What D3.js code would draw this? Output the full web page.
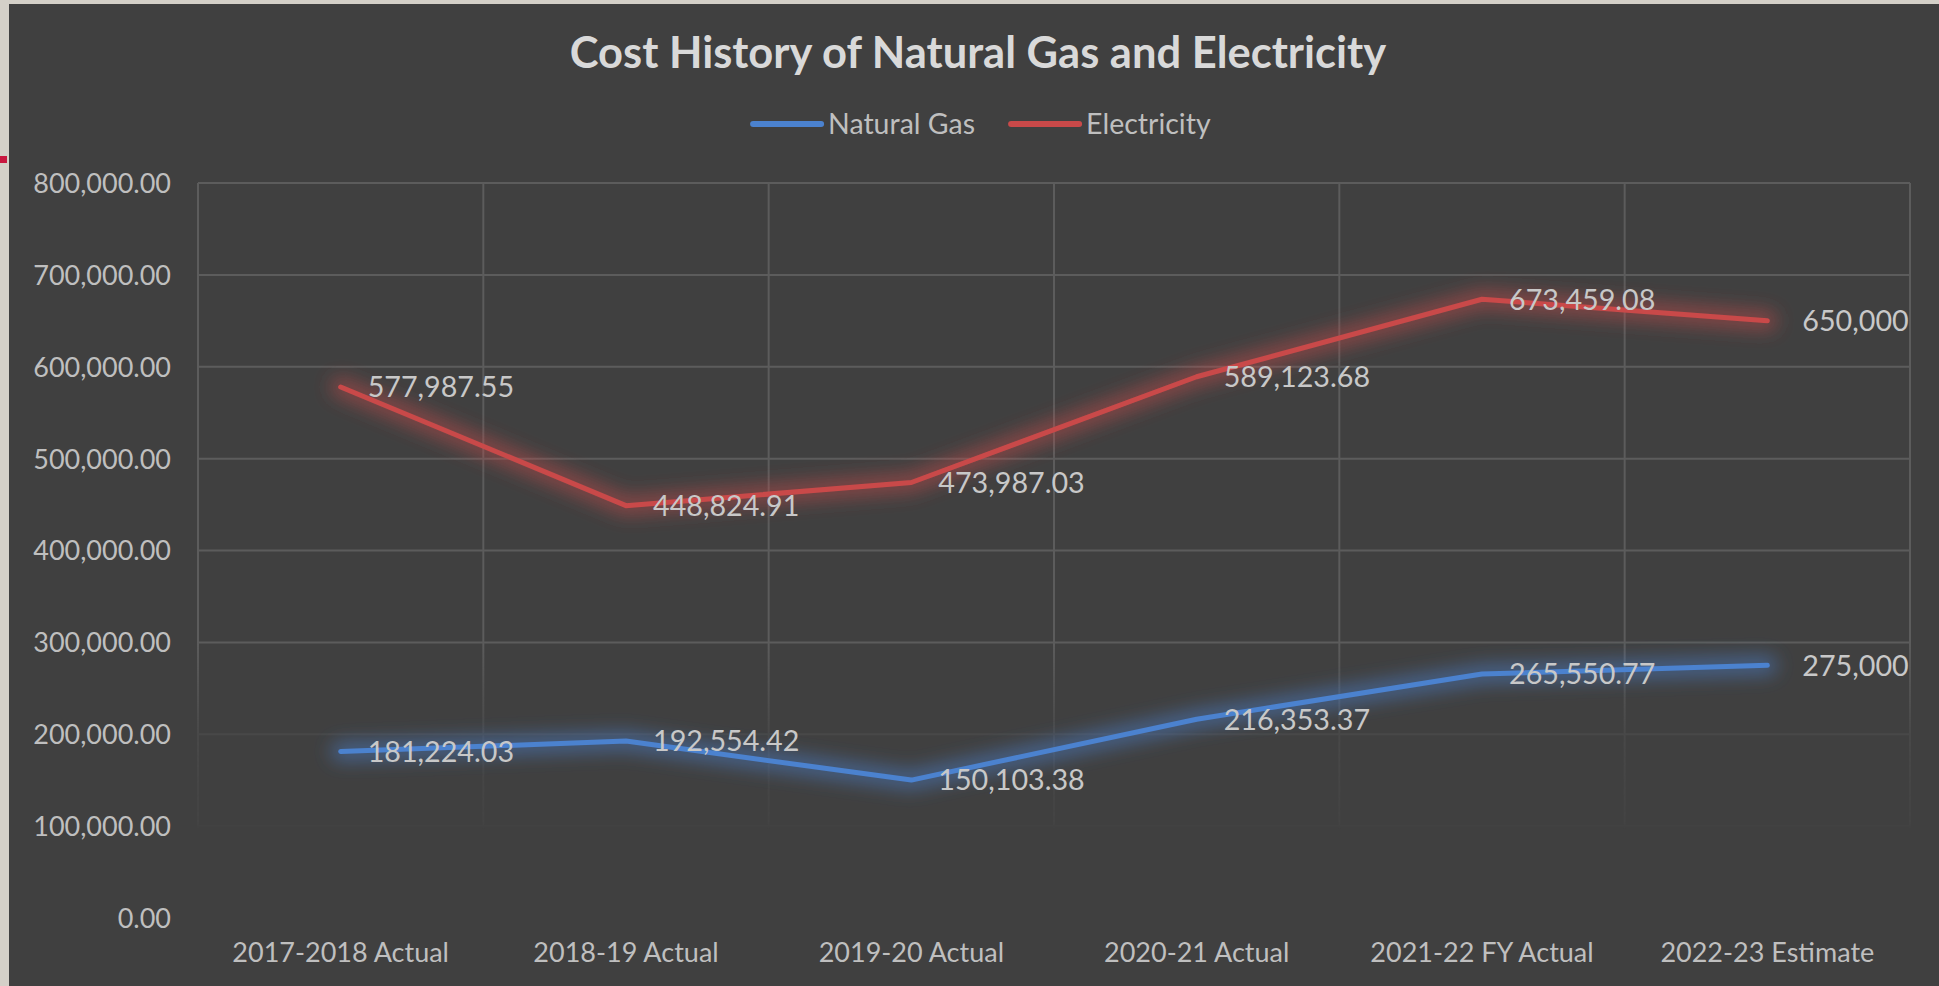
<!DOCTYPE html>
<html>
<head>
<meta charset="utf-8">
<script src="https://cdn.jsdelivr.net/npm/d3@7"></script>
<style>
  html, body { margin: 0; padding: 0; background: #d4d0c8; }
  svg { display: block; }
</style>
</head>
<body>
<svg id="chart" width="1939" height="986"></svg>
<script>
// Fiscal years on the category axis
const categories = ["2017-2018 Actual", "2018-19 Actual", "2019-20 Actual", "2020-21 Actual", "2021-22 FY Actual", "2022-23 Estimate"];
// Annual cost per utility
const naturalGas = [181224.03, 192554.42, 150103.38, 216353.37, 265550.77, 275000];
const electricity = [577987.55, 448824.91, 473987.03, 589123.68, 673459.08, 650000];
// Value axis ticks
const yTicks = [0, 100000, 200000, 300000, 400000, 500000, 600000, 700000, 800000];

const seriesNames = ["Natural Gas", "Electricity"];
const seriesColors = ["#4b82cf", "#c94949"];
const series = [
  { name: seriesNames[0], color: seriesColors[0], values: naturalGas },
  { name: seriesNames[1], color: seriesColors[1], values: electricity }
];

const W = 1939, H = 986;
const svg = d3.select("#chart");
const FONT = "Lato, 'Open Sans', sans-serif";

// Light window frame on the left and top, dark chart panel on top of it
svg.append("rect").attr("x", 0).attr("y", 0).attr("width", W).attr("height", H).attr("fill", "#d4d0c8");
svg.append("rect").attr("x", 0).attr("y", 156).attr("width", 7).attr("height", 7).attr("fill", "#c8173f");
svg.append("rect").attr("x", 9).attr("y", 4).attr("width", W - 9).attr("height", H - 4).attr("fill", "#404040");

const plot = { left: 198, right: 1910, top: 183, bottom: 918 };

const x = d3.scaleBand().domain(categories).range([plot.left, plot.right]).padding(0);
const y = d3.scaleLinear().domain([0, 800000]).range([plot.bottom, plot.top]);
const cx = c => x(c) + x.bandwidth() / 2;

const defs = svg.append("defs");

// Gridlines fade out toward the bottom of the plot area
const fadeEnd = y(100000) + 4;
const fade = defs.append("linearGradient")
  .attr("id", "gridFade").attr("gradientUnits", "userSpaceOnUse")
  .attr("x1", 0).attr("x2", 0).attr("y1", plot.top).attr("y2", fadeEnd);
[[0, 1], [(y(300000) - plot.top) / (fadeEnd - plot.top), 1],
 [(y(200000) - plot.top) / (fadeEnd - plot.top), 0.3],
 [0.99, 0.12], [1, 0]].forEach(([o, a]) => {
  fade.append("stop").attr("offset", o).attr("stop-color", "#fff").attr("stop-opacity", a);
});
defs.append("mask").attr("id", "gridMask").attr("maskUnits", "userSpaceOnUse")
  .attr("x", 0).attr("y", 0).attr("width", W).attr("height", H)
  .append("rect").attr("x", 0).attr("y", 0).attr("width", W).attr("height", H).attr("fill", "url(#gridFade)");

// Soft glow beneath each line
const glow = defs.append("filter").attr("id", "glow")
  .attr("x", "-10%").attr("y", "-50%").attr("width", "120%").attr("height", "200%");
glow.append("feGaussianBlur").attr("stdDeviation", 9);

const grid = svg.append("g").attr("mask", "url(#gridMask)")
  .attr("stroke", "#5c5c5c").attr("stroke-width", 2).attr("fill", "none");

grid.selectAll("line.h").data(yTicks.filter(t => t > 0)).join("line")
  .attr("class", "h")
  .attr("x1", plot.left).attr("x2", plot.right)
  .attr("y1", d => y(d)).attr("y2", d => y(d));

const vlines = [plot.left].concat(categories.map(c => x(c) + x.bandwidth()));
grid.selectAll("line.v").data(vlines).join("line")
  .attr("class", "v")
  .attr("x1", d => d).attr("x2", d => d)
  .attr("y1", plot.top).attr("y2", y(100000) + 2);

// Value axis
const yAxis = svg.append("g")
  .attr("transform", `translate(${plot.left},0)`)
  .call(d3.axisLeft(y).tickValues(yTicks).tickFormat(d3.format(",.2f")).tickSize(0).tickPadding(27));
yAxis.select(".domain").remove();
yAxis.selectAll("text")
  .attr("fill", "#bfbfbf").attr("font-family", FONT).attr("font-size", 27)
  .attr("dy", "0.35em");

// Category axis
const xAxis = svg.append("g")
  .attr("transform", `translate(0,${plot.bottom})`)
  .call(d3.axisBottom(x).tickSize(0).tickPadding(0));
xAxis.select(".domain").remove();
xAxis.selectAll("text")
  .attr("fill", "#bfbfbf").attr("font-family", FONT).attr("font-size", 27)
  .attr("y", 35).attr("dy", "0.35em");

// Series lines with glow
const line = d3.line().x((d, i) => cx(categories[i])).y(d => y(d));

const lines = svg.append("g");
series.forEach(s => {
  lines.append("path").datum(s.values)
    .attr("d", line).attr("fill", "none")
    .attr("stroke", s.color).attr("stroke-opacity", 0.5)
    .attr("stroke-width", 20).attr("stroke-linejoin", "round").attr("stroke-linecap", "round")
    .attr("filter", "url(#glow)");
});
series.forEach(s => {
  lines.append("path").datum(s.values)
    .attr("d", line).attr("fill", "none")
    .attr("stroke", s.color).attr("stroke-width", 5)
    .attr("stroke-linejoin", "round").attr("stroke-linecap", "round");
});

// Data labels to the right of each point
const fmt = v => Number.isInteger(v) ? d3.format(",")(v) : d3.format(",.2f")(v);
const labels = svg.append("g");
series.forEach(s => {
  labels.selectAll(null).data(s.values).join("text")
    .attr("x", (d, i) => cx(categories[i]) + (Number.isInteger(d) ? 35 : 27))
    .attr("y", d => y(d))
    .attr("dy", "0.36em")
    .attr("fill", "#c8c8c8").attr("font-family", FONT).attr("font-size", 28.7)
    .text(fmt);
});

// Title
svg.append("text")
  .attr("x", 978).attr("y", 53).attr("dy", "0.35em")
  .attr("text-anchor", "middle")
  .attr("fill", "#d9d9d9").attr("font-family", FONT).attr("font-weight", "bold").attr("font-size", 43.5)
  .text("Cost History of Natural Gas and Electricity");

// Legend
const legend = svg.append("g");
const items = legend.selectAll("g").data(series).join("g");
items.append("line")
  .attr("x1", 0).attr("x2", 68).attr("y1", 0).attr("y2", 0)
  .attr("stroke", d => d.color).attr("stroke-width", 6).attr("stroke-linecap", "round");
items.append("text")
  .attr("x", 75).attr("y", 0).attr("dy", "0.35em")
  .attr("fill", "#bfbfbf").attr("font-family", FONT).attr("font-size", 28.5)
  .text(d => d.name);
let off = 0;
const widths = [];
items.each(function () {
  widths.push(this.getBBox().width);
});
const gap = 36;
const total = d3.sum(widths) + gap * (widths.length - 1);
const legendCenter = 982;
items.attr("transform", (d, i) => {
  const tx = legendCenter - total / 2 + off;
  off += widths[i] + gap;
  return `translate(${tx},124)`;
});
</script>
</body>
</html>
